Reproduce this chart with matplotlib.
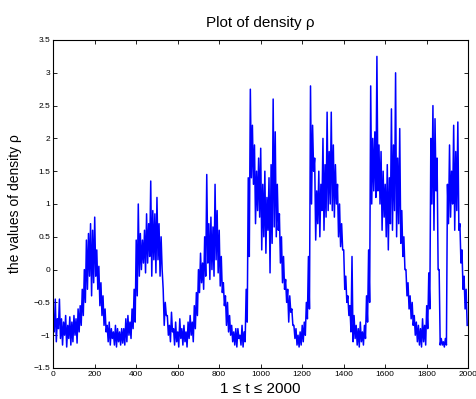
import numpy as np
import matplotlib
matplotlib.use("Agg")
import matplotlib.pyplot as plt

plt.rcParams['font.family'] = ['Liberation Sans', 'DejaVu Sans']

# upper / lower value of the noisy band in each 10-step bin
hi = [-0.7, -0.45, -0.75, -0.45,
      -0.75, -0.8, -0.7, -0.85, -0.72, -0.8, -0.7, -0.75,
      -0.6, -0.55, -0.3,
      0.0, 0.45, 0.55, 0.7, 0.6, 0.8,
      0.3, 0.05, -0.2, -0.4, -0.6,
      -0.85, -0.8, -0.9, -0.95, -0.85, -0.9, -0.95, -0.9,
      -0.9, -0.75,
      -0.7, -0.8, -0.6, -0.3,
      0.45, 1.0,
      0.55, 0.45, 0.6,
      0.85, 0.7, 1.35, 0.9,
      0.85, 1.1, 0.7, 0.5,
      -0.3, -0.5,
      -0.7, -0.85, -0.65, -0.9, -0.8, -0.95, -0.75, -0.9, -0.85, -0.95, -0.8, -0.7,
      -0.8, -0.55, -0.35,
      0.0, 0.25, 0.1,
      0.5, 1.45, 0.7,
      0.8, 0.65, 1.3, 0.9,
      0.6, 0.2, -0.2,
      -0.4, -0.5, -0.7,
      -0.85, -0.95, -0.9, -0.9, -1.0, -0.85, -0.95,
      -0.3, 1.4,
      2.75, 2.2,
      1.9, 1.5, 1.7,
      1.85, 1.3, 1.5, 1.1, 1.4, 1.6,
      2.6, 2.1, 1.3,
      0.85, 0.5, 0.2,
      -0.15, -0.3, -0.4, -0.6,
      -0.85, -0.9, -1.0, -0.95, -0.85, -0.8,
      -0.5, 0.2,
      2.8, 2.2,
      1.7, 1.2, 1.5, 1.3, 2.0, 1.6, 2.4, 1.8,
      2.4, 1.9, 1.6,
      1.3, 1.0, 0.7,
      0.3, -0.1, -0.4,
      -0.55, 0.2, -0.7,
      -0.85, -0.9, -0.8, -0.95, -0.85,
      -0.4, 0.3,
      2.8, 2.0,
      2.1, 3.25, 1.9,
      1.8, 1.5, 1.3, 1.6, 1.4, 2.45, 1.9, 3.0, 1.7,
      2.15, 0.9, 0.5,
      0.0, -0.2, -0.4, -0.5,
      -0.7, -0.8, -0.85, -0.9, -0.75, -0.85,
      -0.55, -0.05,
      2.0, 2.5, 2.3, 1.7,
      0.0,
      -1.05, -1.1, -1.05,
      1.3, 1.9, 1.5, 2.2, 1.8, 2.25,
      0.7, 0.3, -0.1, -0.3]

lo = [-0.95, -1.1, -0.9, -1.05,
      -1.15, -1.0, -1.18, -1.05, -1.15, -1.1, -1.0, -1.12,
      -0.95, -0.85, -0.7,
      -0.5, -0.3, -0.1, -0.4, -0.2, -0.1,
      -0.3, -0.55, -0.7, -0.85, -0.95,
      -1.1, -1.15, -1.05, -1.15, -1.18, -1.1, -1.15, -1.12,
      -1.15, -1.1,
      -1.0, -1.05, -0.9, -0.8,
      -0.4, -0.1,
      0.0, 0.1, -0.05,
      0.1, 0.2, -0.1, 0.15,
      -0.05, 0.15, -0.1, 0.0,
      -0.85, -0.7,
      -1.0, -1.1, -0.95, -1.15, -1.1, -1.18, -1.05, -1.15, -1.1, -1.18, -1.05, -1.0,
      -1.1, -0.9, -0.7,
      -0.35, -0.2, -0.3,
      -0.1, 0.1, -0.15,
      0.0, -0.1, 0.15, -0.05,
      -0.25, -0.35, -0.55,
      -0.85, -0.95, -1.0,
      -1.1, -1.15, -1.18, -1.05, -1.15, -1.18, -1.1,
      -0.8, 0.2,
      1.4, 1.3,
      0.7, 0.9, 0.8,
      0.3, 0.5, 0.25, 0.6, -0.05, 0.4,
      0.65, 0.5, 0.6,
      0.1, -0.2, -0.3,
      -0.5, -0.8, -0.65, -0.85,
      -1.05, -1.15, -1.18, -1.15, -1.1, -1.0,
      -0.75, -0.6,
      1.0, 1.5,
      0.45, 0.7, 0.5, 0.9, 0.6, 0.8, 0.9, 1.0,
      0.9, 0.8, 1.0,
      0.5, 0.35, 0.3,
      -0.3, -0.5, -0.7,
      -0.95, -1.1, -1.05,
      -1.15, -1.18, -1.1, -1.15, -1.05,
      -0.8, -0.5,
      1.0, 1.2,
      1.1, 1.2, 1.0,
      0.6, 0.8, 0.5, 0.3, 0.7, 0.6, 0.9, 0.5, 0.7,
      0.4, 0.2, 0.0,
      -0.4, -0.6, -0.75, -0.85,
      -1.0, -1.1, -1.15, -1.18, -1.1, -1.15,
      -0.9, -0.6,
      1.0, 0.6, 1.2, 0.0,
      -1.15,
      -1.15, -1.18, -1.15,
      0.7, 0.8, 1.0, 0.6, 0.9, 0.6,
      0.1, -0.3, -0.6, -0.85]

rho = np.column_stack([hi, lo]).ravel()
t = np.arange(1, 2001, 5)

fig = plt.figure(figsize=(4.76, 3.99), dpi=100)
ax = fig.add_axes([53/476, 31/399, 415/476, 328/399])
ax.plot(t, rho, color='#0000ff', linewidth=1.1)

ax.set_xlim(0, 2000)
ax.set_ylim(-1.5, 3.5)
ax.set_xticks(np.arange(0, 2001, 200))
ax.set_yticks(np.arange(-1.5, 3.51, 0.5))
ax.set_yticklabels(['\u22121.5', '\u22121', '\u22120.5', '0', '0.5', '1', '1.5', '2', '2.5', '3', '3.5'])
ax.tick_params(direction='in', top=True, right=True, labelsize=6, length=3, width=0.6, pad=2)
for s in ax.spines.values():
    s.set_linewidth(0.8)

ax.set_title('Plot of density ρ', fontsize=11, pad=9)
ax.set_xlabel('1 ≤ t ≤ 2000', fontsize=11, labelpad=3)
ax.set_ylabel('the values of density ρ', fontsize=10, labelpad=8)

fig.savefig('out.png', dpi=100)
